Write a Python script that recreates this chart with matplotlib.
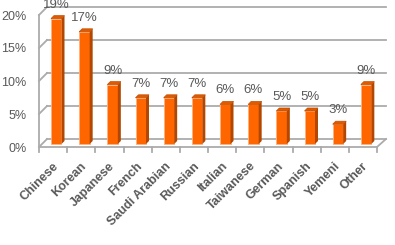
import matplotlib
matplotlib.use("Agg")
import matplotlib.pyplot as plt
from matplotlib.patches import Polygon

categories = ["Chinese", "Korean", "Japanese", "French", "Saudi Arabian", "Russian",
              "Italian", "Taiwanese", "German", "Spanish", "Yemeni", "Other"]
values = [19, 17, 9, 7, 7, 7, 6, 6, 5, 5, 3, 9]
yticks = [0, 5, 10, 15, 20]
ytick_labels = ["0%", "5%", "10%", "15%", "20%"]

W, H = 395, 245
fig = plt.figure(figsize=(W / 100, H / 100), dpi=100)
# front plane: x 0..12 -> px 39..377 ; y 0..20 -> px 147..15 (from top)
x0, x1 = 39, 377
yb, yt = 147, 15
ax = fig.add_axes([x0 / W, (H - yb) / H, (x1 - x0) / W, (yb - yt) / H])
ax.set_xlim(0, 12)
ax.set_ylim(0, 20)
for s in ax.spines.values():
    s.set_visible(False)

pxx = (x1 - x0) / 12.0   # px per category
pxy = (yb - yt) / 20.0   # px per percent

# back wall offsets
bdx, bdy = 8 / pxx, 8 / pxy
grid_c = "#ABABAB"
lw = 1.3
right_back = 12 + 9 / pxx
for t in yticks:
    ax.plot([bdx, right_back], [t + bdy, t + bdy], color=grid_c, lw=lw, clip_on=False, zorder=1)
    ax.plot([0, bdx], [t, t + bdy], color=grid_c, lw=lw, clip_on=False, zorder=1)
# floor front edge and right slant
ax.plot([0, 12], [0, 0], color=grid_c, lw=lw, clip_on=False, zorder=1)
ax.plot([12, right_back], [0, bdy], color=grid_c, lw=lw, clip_on=False, zorder=1)
# front vertical axis line
ax.plot([0, 0], [-5 / pxy, 20], color=grid_c, lw=lw, clip_on=False, zorder=1)
# category boundary ticks
for i in range(1, 13):
    ax.plot([i, i], [0, -5 / pxy], color=grid_c, lw=lw, clip_on=False, zorder=1)

# bars
base = 3 / pxy
off = 12 / pxx
bw = 10.5 / pxx
sdx, sdy = 3 / pxx, 3 / pxy
front_c = "#FF6600"
side_c = "#B34700"
top_c = "#E05A00"
for i, v in enumerate(values):
    xl = i + off
    xr = xl + bw
    yb0 = base
    yt0 = base + v
    ax.add_patch(Polygon([(xl, yb0), (xr, yb0), (xr, yt0), (xl, yt0)], closed=True,
                         facecolor=front_c, edgecolor="#FFB080", lw=0.6, zorder=3, clip_on=False))
    ax.add_patch(Polygon([(xr, yb0), (xr + sdx, yb0 + sdy), (xr + sdx, yt0 + sdy), (xr, yt0)],
                         closed=True, facecolor=side_c, edgecolor="none", zorder=3, clip_on=False))
    ax.add_patch(Polygon([(xl, yt0), (xr, yt0), (xr + sdx, yt0 + sdy), (xl + sdx, yt0 + sdy)],
                         closed=True, facecolor=top_c, edgecolor="#C04C00", lw=0.5, zorder=4, clip_on=False))
    ax.text((xl + xr) / 2, yt0 + 14 / pxy, f"{v}%", ha="center", va="center",
            fontsize=9.5, color="#595959", family="Liberation Sans", zorder=5, clip_on=False)

# y tick labels
ax.set_yticks(yticks)
ax.set_yticklabels(ytick_labels, family="Liberation Sans", fontsize=9, color="#595959")
ax.tick_params(axis="y", length=0, pad=9)

# x labels
ax.set_xticks([])
for i, c in enumerate(categories):
    ax.text(i + 0.5 - 1 / pxx, -13 / pxy, c, rotation=45, ha="right", va="top",
            rotation_mode="anchor", fontsize=9, fontweight="bold", color="#595959",
            family="Liberation Sans", clip_on=False)

fig.savefig("out.png", dpi=100)
